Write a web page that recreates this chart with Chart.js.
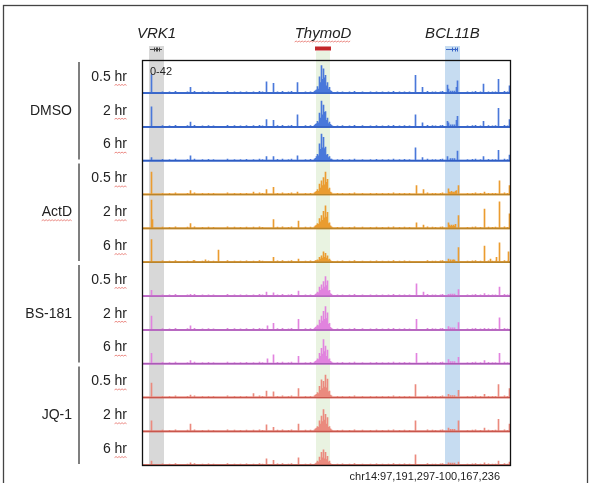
<!DOCTYPE html>
<html lang="en">
<head>
<meta charset="UTF-8">
<title>ThymoD locus tracks</title>
<script src="https://cdn.jsdelivr.net/npm/chart.js"></script>
<style>
  html, body { margin: 0; padding: 0; background: #fff; }
  canvas { display: block; }
</style>
</head>
<body>
<canvas id="tracks" width="590" height="483"></canvas>
<script>
// locus shown, cut into ~8 kb bins
const regionLabel = 'chr14:97,191,297-100,167,236';
const regionStart = 97191297;
const regionEnd = 100167236;
const binCount = 369;
const scaleMax = 42;
const scaleLabel = '0-' + scaleMax;

const treatments = ['DMSO', 'ActD', 'BS-181', 'JQ-1'];
const timepoints = ['0.5 hr', '2 hr', '6 hr'];

const genes = ['VRK1', 'ThymoD', 'BCL11B'];
const geneBins = [[7, 21], [174, 187], [303, 317]];

// signal floor and small background bumps seen in every track
const floorLevel = 1.8;
const minorPeaks = [[20,2.6],[27,2.4],[33,3],[45,2.5],[52,3],[60,2.4],[66,2.6],[71,2.4],[85,3],[92,2.5],[98,2.4],[104,2.6],
  [111,2.5],[117,3],[120,2.4],[135,2.6],[140,3],[146,2.4],[149,3],[163,2.5],[168,2.6],[195,2.4],[200,2.6],[207,2.4],[212,3],
  [220,2.5],[228,2.4],[234,2.6],[240,2.4],[246,2.5],[251,3],[257,2.4],[262,2.6],[267,2.4],[285,3],[290,2.5],[293,2.4],[298,2.6],
  [300,3],[308,3.5],[310,3.5],[312,3.5],[325,2.4],[330,2.6],[333,3],[338,2.4],[346,2.6],[350,2.4],[353,2.5],[362,3],[365,2.4]];

// ThymoD cluster, bins 172..190
const thymodStart = 172;
const thymodDMSO = [
  [3,4,5,9,6,21,14,35,18,31,20,23,10,14,6,8,4,3,2],
  [3,4,5,8,6,18,12,33,16,28,19,20,9,12,5,7,4,3,2],
  [3,4,6,9,7,22,15,34,17,30,16,18,8,9,5,6,3,3,2]
];
const thymodActD = [
  [3,4,5,7,5,14,9,18,12,22,13,29,16,20,7,9,4,3,2],
  [3,4,5,7,6,13,9,17,11,22,14,29,15,21,7,8,4,3,2],
  [2,3,3,4,3,7,5,9,6,14,7,12,6,9,4,5,3,2,2]
];
const thymodBS181 = [
  [2,3,4,6,5,12,8,15,10,19,12,25,14,20,7,8,4,3,2],
  [3,4,5,7,6,13,9,18,12,24,14,30,15,22,8,9,4,3,2],
  [3,4,5,7,6,14,10,20,13,31,16,23,10,18,6,7,4,3,2]
];
const thymodJQ1 = [
  [3,4,5,7,6,15,10,23,12,21,14,29,13,24,8,9,4,3,2],
  [3,4,5,7,6,14,10,20,13,28,15,22,10,18,6,7,4,3,2],
  [2,3,4,6,5,11,7,17,10,20,9,17,8,12,5,6,3,2,2]
];

// other peaks: [bin, signal]
const dmso05 = [[9,24],[48,8],[124,15],[131,13],[155,14],[273,23],[280,8],[305,11],[306,6],[314,8],[315,16],[341,12],[356,18],[367,10]];
const dmso2 = [[9,26],[48,7],[124,10],[131,9],[155,16],[273,16],[280,6],[305,8],[306,6],[314,9],[315,14],[341,8],[356,24],[367,10]];
const dmso6 = [[9,5],[48,7],[124,6],[131,6],[155,7],[273,17],[280,5],[305,6],[315,13],[341,6],[356,14],[367,8]];
const actd05 = [[9,29],[48,6],[111,4],[124,7],[131,10],[155,4],[274,12],[281,7],[306,8],[307,4],[309,5],[311,4],[313,5],[314,6],[316,12],[342,4],[357,18],[367,12]];
const actd2 = [[9,36],[10,12],[48,7],[131,12],[156,10],[274,8],[281,5],[306,8],[307,5],[309,5],[311,5],[313,6],[316,17],[342,25],[357,34],[367,19]];
const actd6 = [[9,29],[51,3],[63,4],[76,16],[131,7],[156,5],[306,5],[308,4],[311,4],[316,19],[342,21],[348,5],[354,7],[357,25],[366,14]];
const bs05 = [[9,8],[48,3],[124,6],[131,5],[156,7],[274,16],[281,6],[306,3],[316,9],[342,4],[357,12],[368,4]];
const bs2 = [[9,18],[48,6],[125,6],[131,9],[156,14],[274,14],[306,5],[316,10],[342,3],[357,16]];
const bs6 = [[9,14],[48,5],[125,7],[131,12],[156,10],[274,14],[306,6],[316,9],[342,5],[357,14]];
const jq05 = [[9,19],[48,4],[111,6],[124,9],[131,8],[156,12],[273,17],[306,5],[316,10],[342,5],[356,17],[367,12]];
const jq2 = [[9,14],[48,10],[124,9],[131,6],[156,10],[273,14],[306,5],[316,14],[342,5],[356,16],[367,10]];
const jq6 = [[9,6],[48,4],[124,9],[131,7],[156,10],[273,14],[306,4],[316,5],[342,4],[356,6],[367,5]];

const peakSets = [[dmso05, dmso2, dmso6], [actd05, actd2, actd6], [bs05, bs2, bs6], [jq05, jq2, jq6]];
const clusterSets = [thymodDMSO, thymodActD, thymodBS181, thymodJQ1];

const barColors = ['#4a78da', '#eb9c30', '#e283df', '#eb8a7e'];
const lineColors = ['#2f5cc2', '#b8842c', '#a85cb6', '#c8564c'];
const bandColors = ['#d8d8d8', '#e9f3e1', '#c6dcf1'];
const bandTops = [46, 51, 46];

const binSize = (regionEnd - regionStart) / binCount;
const binLabels = [];
for (let i = 0; i < binCount; i++) binLabels.push(String(Math.round(regionStart + i * binSize)));

function buildTrack(peaks, cluster) {
  const v = new Array(binCount).fill(floorLevel);
  minorPeaks.forEach(([b, h]) => { v[b] = Math.max(v[b], h); });
  cluster.forEach((h, i) => { v[thymodStart + i] = Math.max(v[thymodStart + i], h); });
  peaks.forEach(([b, h]) => { v[b] = Math.max(v[b], h); });
  return v;
}

const datasets = [];
const scales = { x: { type: 'category', labels: binLabels, display: false, offset: true } };
treatments.forEach((t, g) => {
  timepoints.forEach((tp, k) => {
    const id = 'y' + (g * 3 + k);
    scales[id] = { type: 'linear', position: 'right', stack: 'tracks', stackWeight: 1,
      min: 0, max: scaleMax, display: false };
    datasets.push({
      label: t + ' ' + tp,
      data: buildTrack(peakSets[g][k], clusterSets[g][k]),
      yAxisID: id,
      backgroundColor: barColors[g],
      borderWidth: 0,
      grouped: false,
      barPercentage: 1,
      categoryPercentage: 1
    });
  });
});

function squiggle(ctx, x1, x2, y) {
  ctx.save();
  ctx.strokeStyle = '#e25a52';
  ctx.lineWidth = 0.7;
  ctx.beginPath();
  ctx.moveTo(x1, y);
  let up = true;
  for (let x = x1 + 1.5; x <= x2; x += 1.5) { ctx.lineTo(x, up ? y - 1 : y); up = !up; }
  ctx.stroke();
  ctx.restore();
}

const decor = {
  id: 'decor',
  beforeDatasetsDraw(chart) {
    const ctx = chart.ctx, x = chart.scales.x, area = chart.chartArea;
    const half = (x.getPixelForValue(1) - x.getPixelForValue(0)) / 2;
    ctx.save();
    geneBins.forEach(([b0, b1], i) => {
      const left = x.getPixelForValue(b0) - half, right = x.getPixelForValue(b1) + half;
      ctx.fillStyle = bandColors[i];
      ctx.fillRect(left, bandTops[i], right - left, area.bottom - bandTops[i]);
    });
    ctx.restore();
  },
  afterDatasetsDraw(chart) {
    const ctx = chart.ctx, x = chart.scales.x, area = chart.chartArea;
    const half = (x.getPixelForValue(1) - x.getPixelForValue(0)) / 2;
    ctx.save();

    // track baselines
    for (let i = 0; i < 12; i++) {
      const s = chart.scales['y' + i];
      ctx.strokeStyle = lineColors[Math.floor(i / 3)];
      ctx.lineWidth = 1.4;
      ctx.beginPath();
      ctx.moveTo(area.left, s.bottom - 0.7);
      ctx.lineTo(area.right, s.bottom - 0.7);
      ctx.stroke();
    }
    // frame
    ctx.strokeStyle = '#111';
    ctx.lineWidth = 1.3;
    ctx.strokeRect(area.left + 0.5, area.top + 0.5, area.right - area.left - 1, area.bottom - area.top - 1);

    ctx.fillStyle = '#222';
    ctx.font = '11px "Liberation Sans", Arial, sans-serif';
    ctx.textBaseline = 'middle';
    ctx.textAlign = 'left';
    ctx.fillText(scaleLabel, area.left + 8, area.top + 12);

    // gene names and annotation glyphs
    ctx.font = 'italic 15px "Liberation Sans", Arial, sans-serif';
    ctx.textAlign = 'center';
    geneBins.forEach(([b0, b1], i) => {
      const left = x.getPixelForValue(b0) - half, right = x.getPixelForValue(b1) + half;
      const cx = (left + right) / 2;
      ctx.fillStyle = '#222';
      ctx.fillText(genes[i], cx, 34);
      if (genes[i] === 'ThymoD') {
        const w = ctx.measureText(genes[i]).width;
        squiggle(ctx, cx - w / 2, cx + w / 2, 42);
        ctx.fillStyle = '#c3272a';
        ctx.fillRect(left - 1, 46.5, right - left + 2, 4);
      } else {
        const col = i === 0 ? '#444' : '#3a66c8';
        ctx.strokeStyle = col;
        ctx.lineWidth = 1;
        ctx.beginPath();
        ctx.moveTo(left + 1, 49.5);
        ctx.lineTo(right - 2, 49.5);
        const ticks = i === 0 ? [5, 7, 8, 10] : [7, 10, 12];
        ticks.forEach((d) => { ctx.moveTo(left + d + 0.5, 47.5); ctx.lineTo(left + d + 0.5, 51.5); });
        ctx.stroke();
      }
    });

    // left labels
    ctx.font = '14px "Liberation Sans", Arial, sans-serif';
    for (let g = 0; g < 4; g++) {
      const top = chart.scales['y' + (g * 3)].top;
      const bottom = chart.scales['y' + (g * 3 + 2)].bottom;
      for (let k = 0; k < 3; k++) {
        const s = chart.scales['y' + (g * 3 + k)];
        const cy = (s.top + s.bottom) / 2;
        ctx.fillStyle = '#222';
        ctx.textAlign = 'right';
        ctx.fillText(timepoints[k], 127, cy);
        const hw = ctx.measureText('hr').width;
        squiggle(ctx, 127 - hw, 127, cy + 8.5);
      }
      const mid = chart.scales['y' + (g * 3 + 1)];
      const my = (mid.top + mid.bottom) / 2;
      ctx.fillStyle = '#222';
      ctx.textAlign = 'right';
      ctx.fillText(treatments[g], 72, my);
      if (treatments[g] === 'ActD') {
        const w = ctx.measureText(treatments[g]).width;
        squiggle(ctx, 72 - w, 72, my + 8.5);
      }
      ctx.strokeStyle = '#555';
      ctx.lineWidth = 1.5;
      ctx.beginPath();
      ctx.moveTo(79, top + 2);
      ctx.lineTo(79, bottom - 2);
      ctx.stroke();
    }

    // locus coordinates
    ctx.fillStyle = '#222';
    ctx.font = '11px "Liberation Sans", Arial, sans-serif';
    ctx.textAlign = 'right';
    ctx.fillText(regionLabel, 500, 477);

    // figure border
    ctx.strokeStyle = '#444';
    ctx.lineWidth = 1.3;
    ctx.strokeRect(3.5, 5.5, 584, 520);
    ctx.restore();
  }
};

new Chart(document.getElementById('tracks'), {
  type: 'bar',
  data: { labels: binLabels, datasets: datasets },
  options: {
    responsive: false,
    animation: false,
    devicePixelRatio: 1,
    layout: { padding: { left: 142, top: 60, right: 79, bottom: 17 } },
    scales: scales,
    plugins: { legend: { display: false }, tooltip: { enabled: false } }
  },
  plugins: [decor]
});
</script>
</body>
</html>
